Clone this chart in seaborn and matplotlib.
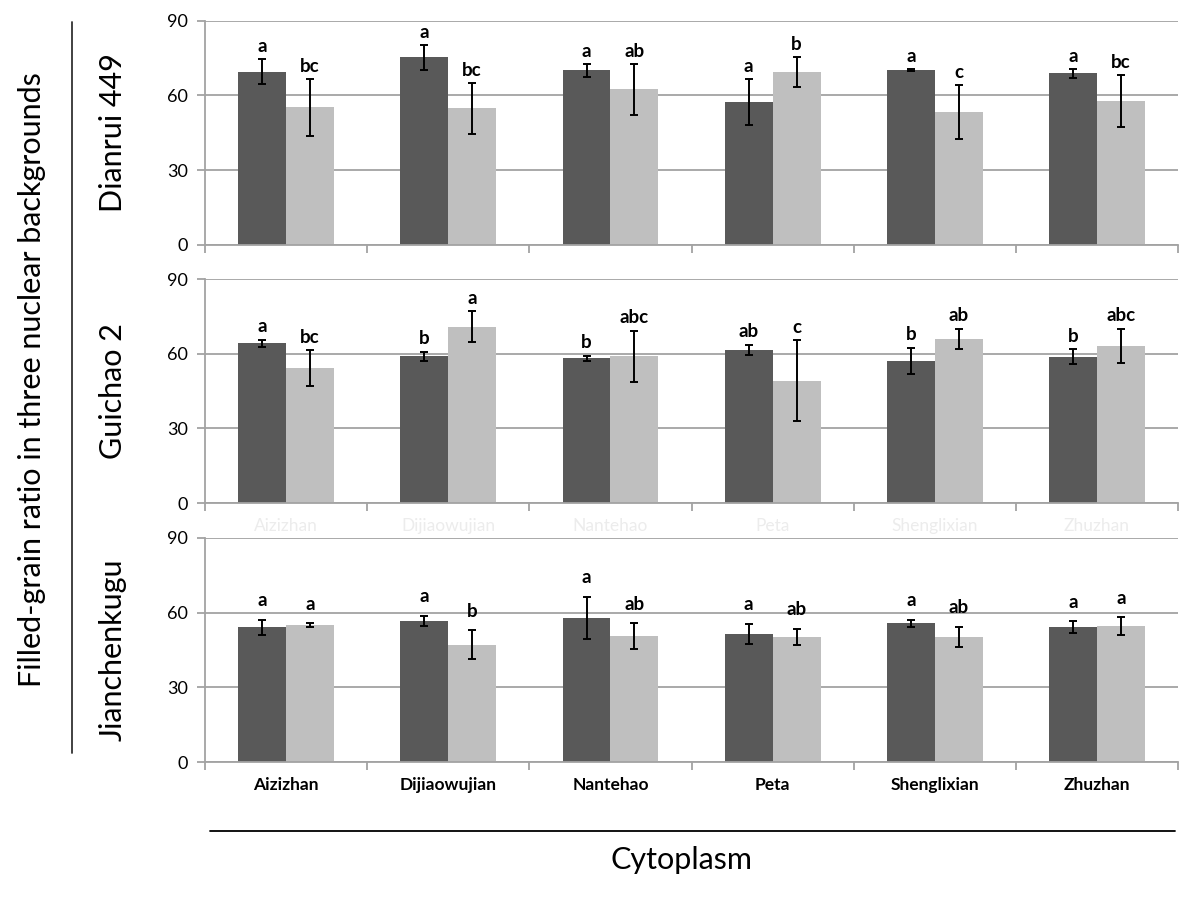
import pandas as pd
import matplotlib
matplotlib.use('Agg')
import matplotlib.pyplot as plt
import seaborn as sns
from matplotlib.lines import Line2D

# categories
cytoplasm = ['Aizizhan', 'Dijiaowujian', 'Nantehao', 'Peta', 'Shenglixian', 'Zhuzhan']
backgrounds = ['Dianrui 449', 'Guichao 2', 'Jianchenkugu']
series = ['dark', 'light']

# Dianrui 449
dianrui_dark = [69.5, 75.3, 70.1, 57.4, 70.3, 68.9]
dianrui_dark_err = [5.0, 5.1, 2.7, 9.2, 0.5, 1.7]
dianrui_dark_sig = ['a', 'a', 'a', 'a', 'a', 'a']
dianrui_light = [55.2, 54.8, 62.4, 69.4, 53.5, 57.9]
dianrui_light_err = [11.5, 10.1, 10.1, 6.0, 10.8, 10.5]
dianrui_light_sig = ['bc', 'bc', 'ab', 'b', 'c', 'bc']

# Guichao 2
guichao_dark = [64.1, 58.9, 58.1, 61.4, 57.2, 58.8]
guichao_dark_err = [1.5, 1.9, 1.1, 2.1, 5.2, 3.0]
guichao_dark_sig = ['a', 'b', 'b', 'ab', 'b', 'b']
guichao_light = [54.2, 70.8, 59.0, 49.1, 66.0, 63.1]
guichao_light_err = [7.2, 6.3, 10.3, 16.2, 4.0, 7.0]
guichao_light_sig = ['bc', 'a', 'abc', 'c', 'ab', 'abc']

# Jianchenkugu
jian_dark = [54.1, 56.6, 58.0, 51.5, 55.7, 54.1]
jian_dark_err = [3.0, 2.1, 8.4, 4.0, 1.5, 2.4]
jian_dark_sig = ['a', 'a', 'a', 'a', 'a', 'a']
jian_light = [54.9, 47.1, 50.5, 50.2, 50.3, 54.6]
jian_light_err = [0.8, 5.8, 5.2, 3.4, 4.0, 3.5]
jian_light_sig = ['a', 'b', 'ab', 'ab', 'ab', 'a']

yticks = [0, 30, 60, 90]

panels = [
    (dianrui_dark, dianrui_dark_err, dianrui_dark_sig, dianrui_light, dianrui_light_err, dianrui_light_sig),
    (guichao_dark, guichao_dark_err, guichao_dark_sig, guichao_light, guichao_light_err, guichao_light_sig),
    (jian_dark, jian_dark_err, jian_dark_sig, jian_light, jian_light_err, jian_light_sig),
]

sns.set_style('white')
plt.rcParams['font.family'] = ['Lato', 'DejaVu Sans']
plt.rcParams['text.color'] = 'black'

fig = plt.figure(figsize=(12, 9), dpi=100)
grid_col = '#a3a3a3'
colors = {'dark': '#595959', 'light': '#bfbfbf'}

boxes = [(0.1708, 0.7278, 0.811, 0.2492),
         (0.1708, 0.4411, 0.811, 0.2489),
         (0.1708, 0.1533, 0.811, 0.2490)]
label_gap = [2.8, 3.0, 5.5]

for i, (d, de, ds, l, le, ls) in enumerate(panels):
    ax = fig.add_axes(boxes[i])
    df = pd.DataFrame({
        'cytoplasm': cytoplasm * 2,
        'series': ['dark'] * 6 + ['light'] * 6,
        'value': d + l,
        'err': de + le,
        'sig': ds + ls,
    })
    sns.barplot(data=df, x='cytoplasm', y='value', hue='series', hue_order=series,
                palette=colors, errorbar=None, width=0.59, gap=0, saturation=1,
                linewidth=0, legend=False, ax=ax)

    for cont, s in zip(ax.containers, series):
        sub = df[df['series'] == s]
        xs = [p.get_x() + p.get_width() / 2 for p in cont.patches]
        ax.errorbar(xs, sub['value'], yerr=sub['err'], fmt='none', ecolor='black',
                    elinewidth=1.4, capsize=3, capthick=1.4, zorder=5)
        for x, v, e, t in zip(xs, sub['value'], sub['err'], sub['sig']):
            ax.text(x, v + e + label_gap[i], t, ha='center', va='baseline',
                    fontsize=13.5, fontweight='bold', color='black')

    ax.set_ylim(0, 90)
    ax.set_xlim(-0.5, 5.5)
    ax.set_yticks(yticks)
    ax.yaxis.grid(True, color=grid_col, lw=1.3)
    ax.set_axisbelow(True)
    for side in ['top', 'right']:
        ax.spines[side].set_visible(False)
    for side in ['left', 'bottom']:
        ax.spines[side].set_color(grid_col)
        ax.spines[side].set_linewidth(1.3)
    ax.tick_params(axis='y', left=True, length=6, width=1.3, color=grid_col,
                   labelsize=13, labelcolor='black', pad=6)
    ax.set_xticks([k - 0.5 for k in range(7)], minor=True)
    ax.tick_params(axis='x', which='minor', bottom=True, length=6, width=1.3, color=grid_col)
    ax.tick_params(axis='x', which='major', bottom=False, length=0, pad=11)
    ax.set_xlabel('')
    ax.set_ylabel('')
    if i == 0:
        ax.set_xticklabels([])
    elif i == 1:
        ax.set_xticklabels(cytoplasm, fontsize=12.5, color='#ececec')
    else:
        ax.set_xticklabels(cytoplasm, fontsize=12.5, fontweight='bold', color='black')

    cy = boxes[i][1] + boxes[i][3] / 2
    fig.text(113 / 1200, cy, backgrounds[i], rotation=90, ha='center', va='center',
             fontsize=22)

fig.text(32 / 1200, 1 - 380 / 900, 'Filled-grain ratio in three nuclear backgrounds',
         rotation=90, ha='center', va='center', fontsize=22)
fig.text(682 / 1200, 1 - 860 / 900, 'Cytoplasm', ha='center', va='center', fontsize=22)
fig.add_artist(Line2D([72 / 1200, 72 / 1200], [1 - 22 / 900, 1 - 753 / 900],
                      color='#333333', lw=1.3))
fig.add_artist(Line2D([210 / 1200, 1175 / 1200], [1 - 831 / 900, 1 - 831 / 900],
                      color='black', lw=1.3))

fig.savefig('out.png', dpi=100)
